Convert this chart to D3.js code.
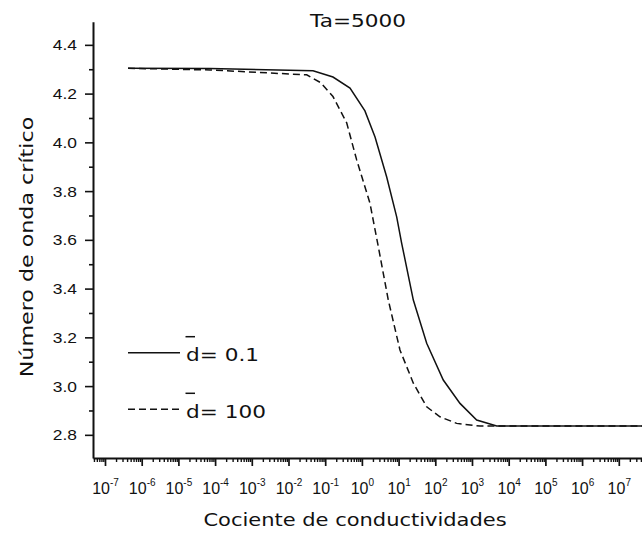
<!DOCTYPE html>
<html><head><meta charset="utf-8">
<script src="https://cdn.jsdelivr.net/npm/d3@7"></script>
<style>body{margin:0;background:#fff}svg{display:block;font-family:"DejaVu Sans",sans-serif}</style>
</head><body><svg id="c" width="642" height="538"></svg>
<script>
const chartTitle = "Ta=5000";
const xTitle = "Cociente de conductividades";
const yTitle = "Número de onda crítico";
const seriesNames = ["d= 0.1", "d= 100"];

// series: d = 0.1 (solid)
const solidX = [4.24e-7, 7.26e-5, 0.0466, 0.163, 0.474, 1.21, 2.28, 4.74, 8.87, 12.1, 25.2, 58.3, 165, 471, 1343, 4710, 4.29e7];
const solidY = [4.304, 4.303, 4.294, 4.268, 4.223, 4.129, 4.022, 3.858, 3.694, 3.587, 3.353, 3.176, 3.025, 2.929, 2.861, 2.836, 2.836];
// series: d = 100 (dashed)
const dashX = [4.24e-7, 7.26e-5, 0.0313, 0.075, 0.163, 0.385, 0.721, 1.66, 2.80, 5.24, 10.9, 25.2, 58.3, 134, 383, 1652, 4.29e7];
const dashY = [4.304, 4.297, 4.277, 4.245, 4.188, 4.080, 3.928, 3.750, 3.572, 3.353, 3.148, 3.012, 2.915, 2.874, 2.847, 2.836, 2.836];

const yTicks = [2.8, 3.0, 3.2, 3.4, 3.6, 3.8, 4.0, 4.2, 4.4];
const yMinorTicks = [2.9, 3.1, 3.3, 3.5, 3.7, 3.9, 4.1, 4.3];
const xTickExponents = [-7, -6, -5, -4, -3, -2, -1, 0, 1, 2, 3, 4, 5, 6, 7];

const svg = d3.select("#c");
const x = d3.scaleLog().domain([4.71e-8, 4.29e7]).range([93, 642]);
const y = d3.scaleLinear().domain([2.705, 4.495]).range([458, 21.7]);
const SX = 1.2; // horizontal text stretch of the original

function stretched(g, txt, px, py, size, anchor) {
  return g.append("text").attr("transform", `translate(${px},${py}) scale(${SX},1)`)
    .attr("text-anchor", anchor).attr("font-size", size).attr("fill", "#111").text(txt);
}

// minor x ticks
const allX = x.ticks(40);
const minorX = allX.filter(v => Math.abs(Math.log10(v) - Math.round(Math.log10(v))) > 1e-6);
const majorX = xTickExponents.map(e => Math.pow(10, e));

const gx = svg.append("g").attr("transform", "translate(0,458)");
gx.append("g").call(d3.axisBottom(x).tickValues(minorX).tickSize(4).tickSizeOuter(0).tickFormat(""))
  .call(g => g.select(".domain").remove())
  .call(g => g.selectAll("line").attr("stroke", "#111").attr("stroke-width", 1.4));
const gxMaj = gx.append("g").call(d3.axisBottom(x).tickValues(majorX).tickSize(8).tickSizeOuter(0).tickFormat(""));
gxMaj.select(".domain").attr("stroke", "#111").attr("stroke-width", 2);
gxMaj.selectAll("line").attr("stroke", "#111").attr("stroke-width", 1.7);
gxMaj.selectAll(".tick").each(function(d, i) {
  const t = d3.select(this).append("text").attr("y", 36).attr("text-anchor", "middle")
    .attr("fill", "#111").attr("font-size", 16);
  t.append("tspan").text("10");
  t.append("tspan").attr("dy", -8).attr("font-size", 10).text(String(xTickExponents[i]));
});

// y axis
const gy = svg.append("g").attr("transform", "translate(93,0)");
gy.append("g").call(d3.axisLeft(y).tickValues(yMinorTicks).tickSize(4).tickSizeOuter(0).tickFormat(""))
  .call(g => g.select(".domain").remove())
  .call(g => g.selectAll("line").attr("stroke", "#111").attr("stroke-width", 1.6));
const gyMaj = gy.append("g").call(d3.axisLeft(y).tickValues(yTicks).tickSize(8).tickSizeOuter(0).tickFormat(""));
gyMaj.select(".domain").attr("stroke", "#111").attr("stroke-width", 2);
gyMaj.selectAll("line").attr("stroke", "#111").attr("stroke-width", 1.6);
gyMaj.selectAll(".tick").each(function(d) {
  stretched(d3.select(this), d3.format(".1f")(d), -16, 5, 14.5, "end");
});

// lines
const line = d3.line().x(d => x(d[0])).y(d => y(d[1]));
const plot = svg.append("g");
plot.append("path").datum(dashX.map((v, i) => [v, dashY[i]]))
  .attr("d", line).attr("fill", "none").attr("stroke", "#111").attr("stroke-width", 1.5)
  .attr("stroke-dasharray", "7,4");
plot.append("path").datum(solidX.map((v, i) => [v, solidY[i]]))
  .attr("d", line).attr("fill", "none").attr("stroke", "#111").attr("stroke-width", 1.5);

// titles
stretched(svg, chartTitle, 358, 27, 18, "middle");
stretched(svg, xTitle, 355, 526, 17.5, "middle");
svg.append("text").attr("transform", `translate(33,247) rotate(-90) scale(${SX},1)`)
  .attr("text-anchor", "middle").attr("font-size", 18.5).attr("fill", "#111").text(yTitle);

// legend
const legend = svg.append("g");
const legRows = [{ y: 352.7, dash: null }, { y: 409.3, dash: "7,4" }];
legRows.forEach((r, i) => {
  legend.append("line").attr("x1", 128).attr("x2", 180).attr("y1", r.y).attr("y2", r.y)
    .attr("stroke", "#111").attr("stroke-width", 1.5).attr("stroke-dasharray", r.dash);
  stretched(legend, seriesNames[i], 186, r.y + 8.5, 18, "start");
  legend.append("line").attr("x1", 185.5).attr("x2", 195).attr("y1", r.y - 16).attr("y2", r.y - 16)
    .attr("stroke", "#111").attr("stroke-width", 1.5);
});
</script></body></html>
